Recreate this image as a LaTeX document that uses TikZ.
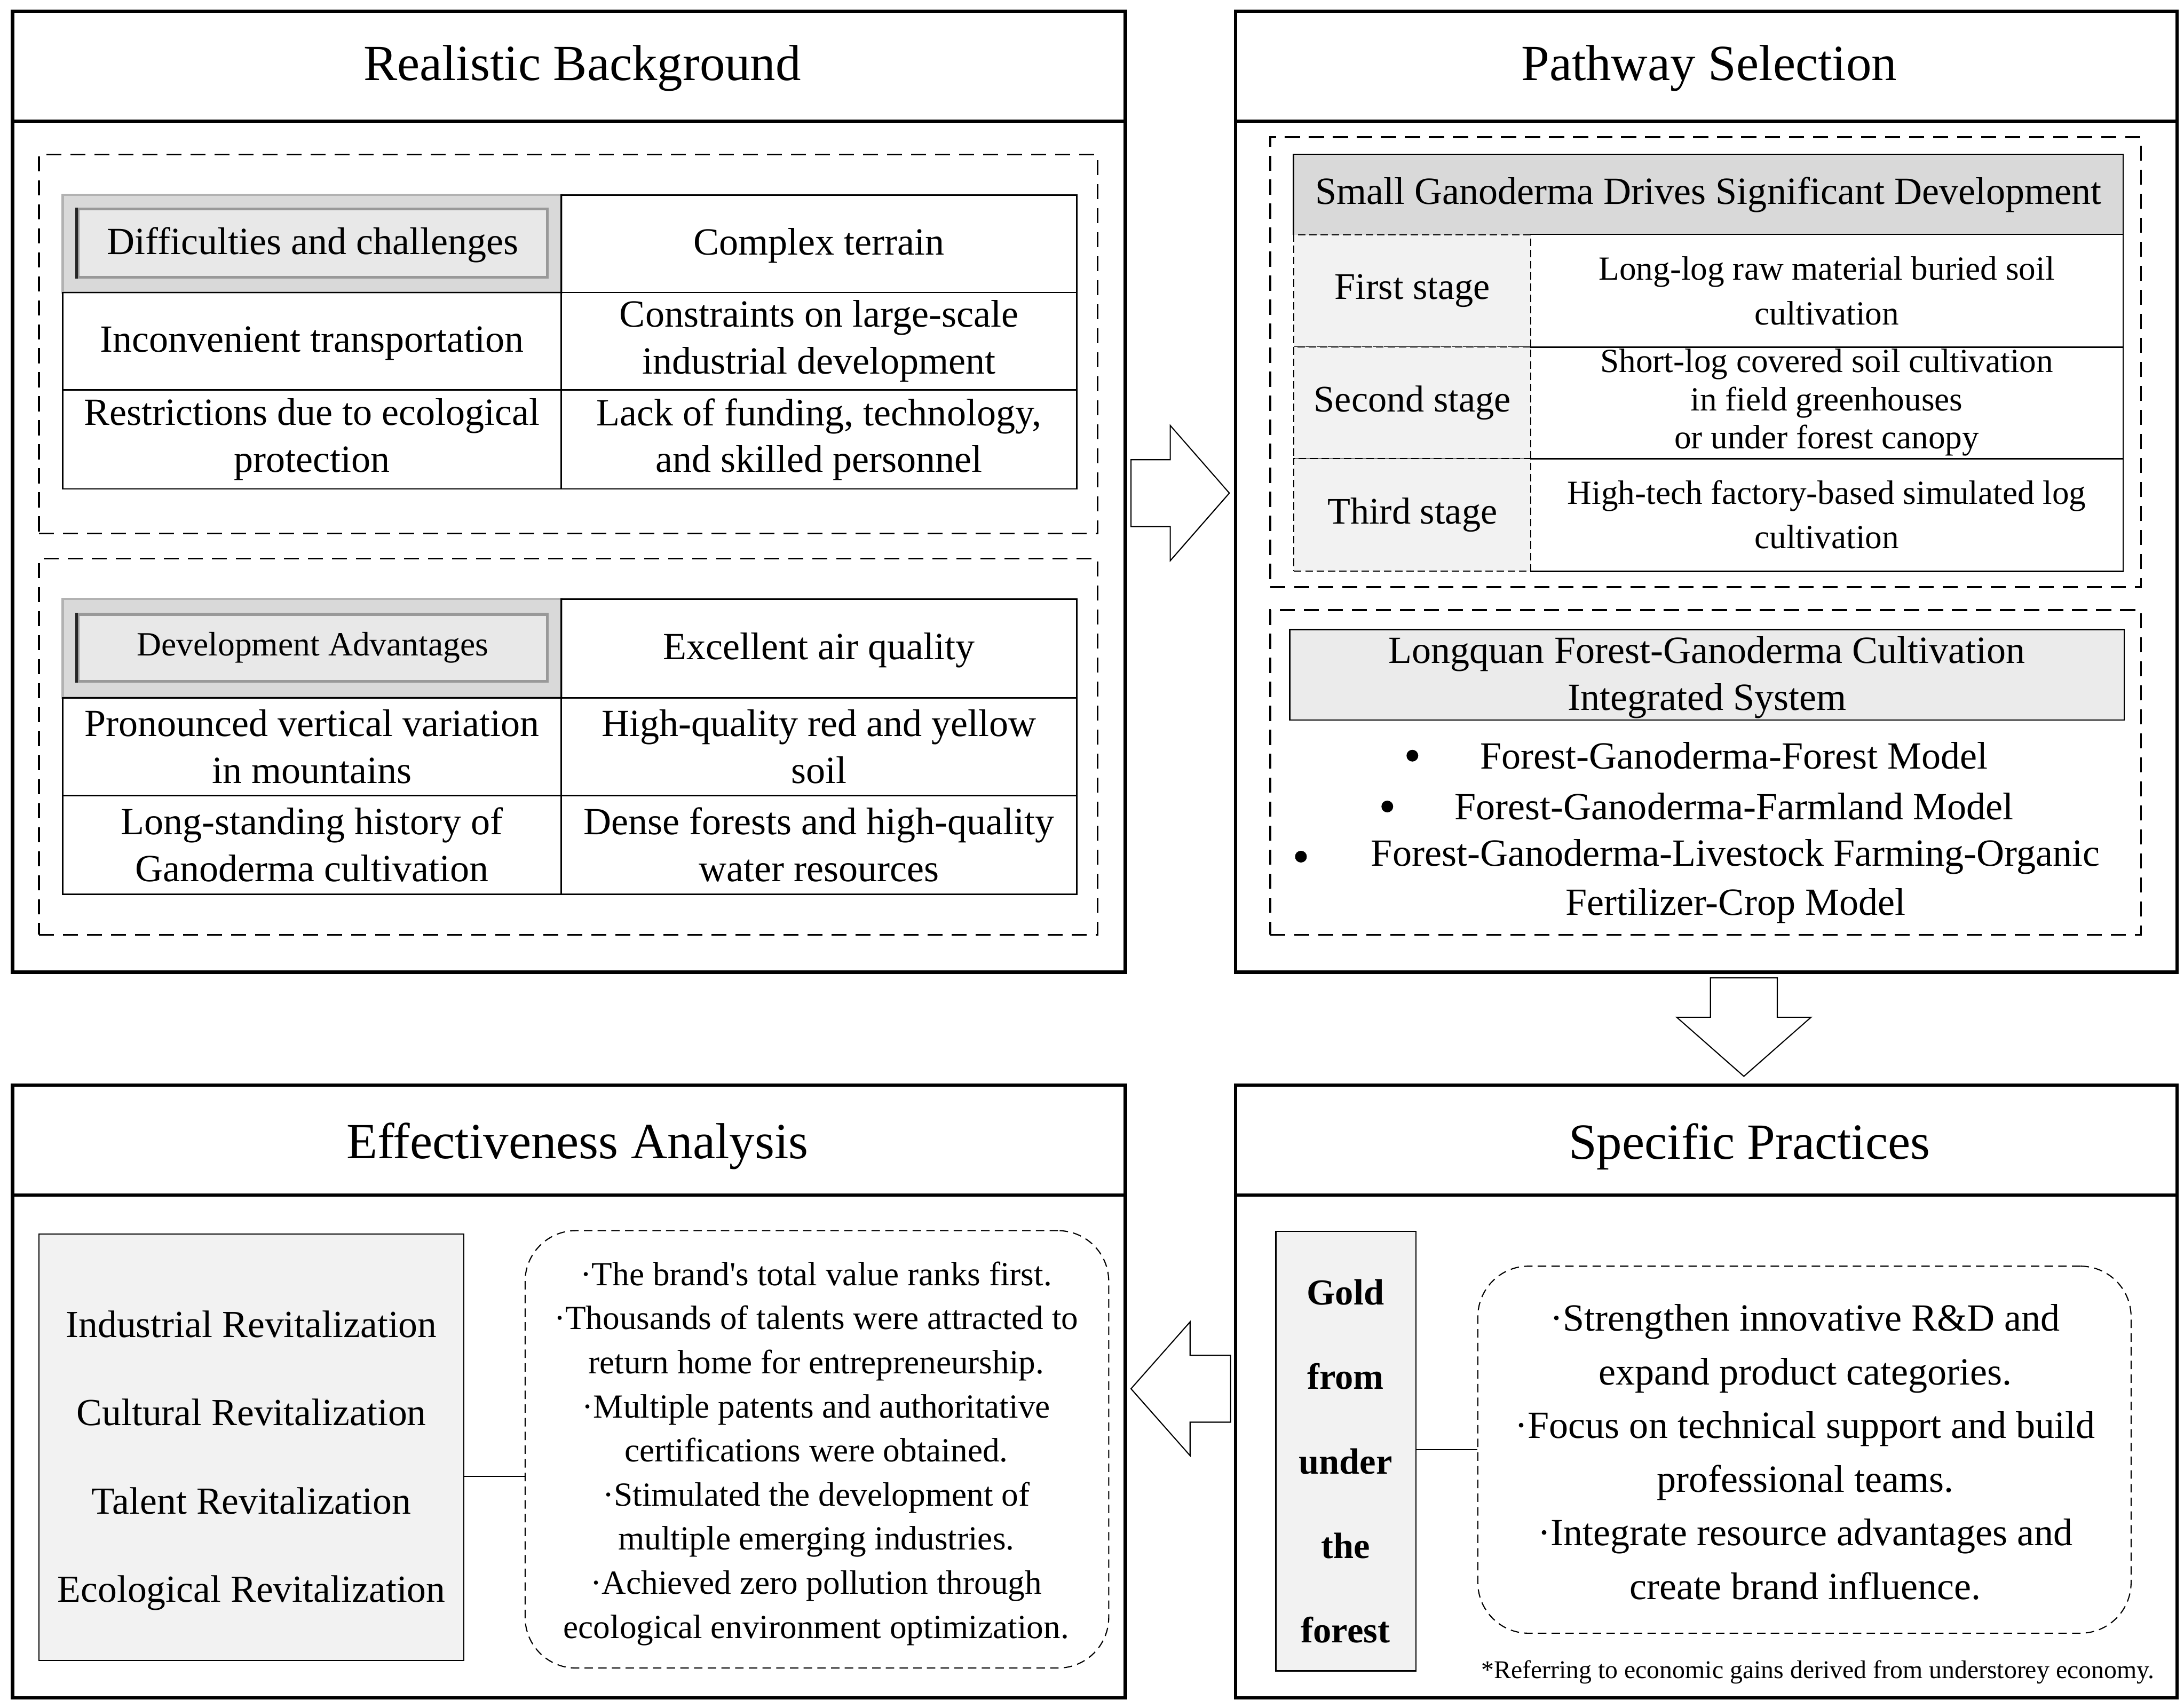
\documentclass[tikz,border=0pt]{standalone}
\usepackage{fontspec}
\setmainfont{Liberation Serif}
\usepackage{tikz}
\usetikzlibrary{positioning,calc,fit}

\begin{document}
\begin{tikzpicture}[
    x=0.026097cm, y=-0.026097cm,
    panel/.style={rectangle, draw, line width=1.8pt, inner sep=0pt},
    title/.style={font=\fontsize{27}{32}\selectfont},
    zone/.style={rectangle, draw, dash pattern=on 8pt off 4.8pt, line width=0.9pt, inner sep=0pt},
    cell/.style={rectangle, draw, line width=0.8pt, inner sep=0pt},
    celltext/.style={inner sep=0pt, align=center, font=\fontsize{20.5}{25}\selectfont},
    bevel/.style={rectangle, draw=black!30, line width=1.2pt, fill=black!15, inner sep=0pt},
    bevelin/.style={rectangle, draw=black!40, line width=1.5pt, fill=black!9, inner sep=0pt},
    stagecell/.style={rectangle, draw, dash pattern=on 4pt off 2pt, line width=0.6pt, fill=black!5, inner sep=0pt},
    stagetext/.style={inner sep=0pt, align=center, font=\fontsize{18}{23.7}\selectfont},
    graybox/.style={rectangle, draw, line width=0.7pt, fill=black!5, inner sep=0pt},
    dot/.style={circle, fill, inner sep=0pt, minimum size=0.22cm},
    note/.style={rectangle, draw, dash pattern=on 4.5pt off 2.8pt, line width=0.6pt, rounded corners=0.95cm, inner sep=0pt},
    bigarrow/.style={draw, line width=0.6pt, fill=white}
]
    \useasboundingbox (0,0) rectangle (1568,1226);

    % Realistic Background
    \node[panel, fit={(9,8) (808,698)}] (bg) {};
    \node[panel, fit={(9,8) (808,87)}] (bghead) {};
    \node[title] (bgtitle) at (418,49) {Realistic Background};
    \node[zone, fit={(28,111) (788,383)}] (bgzone1) {};
    \node[bevel, fit={(45,140) (403,210)}] (diff) {};
    \node[bevelin, fit={(56,150) (393,199)}] (diffin) {};
    \draw[line width=1.6pt, black!85] (diffin.north west) -- (diffin.south west);
    \node[celltext] (difftext) at ([yshift=-1pt]diffin.center) {Difficulties and challenges};
    \node[cell, fit={(403,140) (773,210)}] (terrain) {};
    \node[celltext] (terraintext) at ([yshift=-1pt]terrain.center) {Complex terrain};
    \node[cell, fit={(45,210) (403,280)}] (transport) {};
    \node[celltext] (transporttext) at ([yshift=-1pt]transport.center) {Inconvenient transportation};
    \node[cell, fit={(403,210) (773,280)}] (scale) {};
    \node[celltext] (scaletext) at (scale.center) {Constraints on large-scale\\industrial development};
    \node[cell, fit={(45,280) (403,351)}] (ecoprot) {};
    \node[celltext] (ecoprottext) at (ecoprot.center) {Restrictions due to ecological\\protection};
    \node[cell, fit={(403,280) (773,351)}] (funding) {};
    \node[celltext] (fundingtext) at (funding.center) {Lack of funding, technology,\\and skilled personnel};

    \node[zone, fit={(28,401) (788,671)}] (bgzone2) {};
    \node[bevel, fit={(45,430) (403,501)}] (adv) {};
    \node[bevelin, fit={(56,441) (393,489)}] (advin) {};
    \draw[line width=1.6pt, black!85] (advin.north west) -- (advin.south west);
    \node[celltext, font=\fontsize{18.1}{22}\selectfont] (advtext) at (advin.center) {Development Advantages};
    \node[cell, fit={(403,430) (773,501)}] (air) {};
    \node[celltext] (airtext) at ([yshift=-1pt]air.center) {Excellent air quality};
    \node[cell, fit={(45,501) (403,571)}] (vertical) {};
    \node[celltext] (verticaltext) at (vertical.center) {Pronounced vertical variation\\in mountains};
    \node[cell, fit={(403,501) (773,571)}] (soil) {};
    \node[celltext] (soiltext) at (soil.center) {High-quality red and yellow\\soil};
    \node[cell, fit={(45,571) (403,642)}] (history) {};
    \node[celltext] (historytext) at (history.center) {Long-standing history of\\Ganoderma cultivation};
    \node[cell, fit={(403,571) (773,642)}] (water) {};
    \node[celltext] (watertext) at (water.center) {Dense forests and high-quality\\water resources};

    % Pathway Selection
    \node[panel, fit={(887,8) (1563,698)}] (path) {};
    \node[panel, fit={(887,8) (1563,87)}] (pathhead) {};
    \node[title] (pathtitle) at (1227,49) {Pathway Selection};
    \node[zone, fit={(912,98.5) (1537,421.5)}] (pathzone1) {};
    \node[fit={(929,111) (1524,168.5)}, inner sep=0pt, fill=black!15] (small) {};
    \draw[line width=0.8pt] (small.south west) |- (small.north east) -- (small.south east);
    \node[celltext] (smalltext) at (small.center) {Small Ganoderma Drives Significant Development};
    \node[stagecell, fit={(929,168.5) (1099,249)}] (first) {};
    \node[celltext, font=\fontsize{20}{24}\selectfont] (firsttext) at (first.center) {First stage};
    \node[fit={(1099,168.5) (1524,249)}, inner sep=0pt] (firstdo) {};
    \node[stagetext] (firstdotext) at (firstdo.center) {Long-log raw material buried soil\\cultivation};
    \node[stagecell, fit={(929,249) (1099,329)}] (second) {};
    \node[celltext, font=\fontsize{20}{24}\selectfont] (secondtext) at (second.center) {Second stage};
    \node[fit={(1099,249) (1524,329)}, inner sep=0pt] (seconddo) {};
    \node[stagetext, font=\fontsize{18}{20.3}\selectfont] (seconddotext) at (seconddo.center) {Short-log covered soil cultivation\\in field greenhouses\\or under forest canopy};
    \node[stagecell, fit={(929,329) (1099,410)}] (third) {};
    \node[celltext, font=\fontsize{20}{24}\selectfont] (thirdtext) at (third.center) {Third stage};
    \node[fit={(1099,329) (1524,410)}, inner sep=0pt] (thirddo) {};
    \node[stagetext] (thirddotext) at (thirddo.center) {High-tech factory-based simulated log\\cultivation};
    \draw[line width=0.8pt] (firstdo.north west) -- (firstdo.north east) -- (thirddo.south east) -- (thirddo.south west);
    \draw[line width=0.8pt] (firstdo.south west) -- (firstdo.south east) (seconddo.south west) -- (seconddo.south east);

    \node[zone, fit={(912,438) (1537,671)}] (pathzone2) {};
    \node[graybox, fit={(926,452) (1525,517)}, fill=black!8] (longquan) {};
    \node[celltext] (longquantext) at ([yshift=-1.5pt]longquan.center) {Longquan Forest-Ganoderma Cultivation\\Integrated System};
    \node[celltext] (model1) at (1245,542.5) {Forest-Ganoderma-Forest Model};
    \node[celltext] (model2) at (1245,579) {Forest-Ganoderma-Farmland Model};
    \node[celltext] (model3) at (1246,615) {Forest-Ganoderma-Livestock Farming-Organic};
    \node[celltext] (model3b) at (1246,650.5) {Fertilizer-Crop Model};
    \node[dot] (dot1) at (1014,542.5) {};
    \node[dot] (dot2) at (996,579) {};
    \node[dot] (dot3) at (934,615) {};

    % Block arrows
    \draw[bigarrow] (812,330) -- (840.2,330) -- (840.2,305.5) -- (882.6,354) -- (840.2,402.5) -- (840.2,378) -- (812,378) -- cycle;
    \draw[bigarrow] (1228,702) -- (1276,702) -- (1276,730.3) -- (1300.2,730.3) -- (1252,772.7) -- (1203.8,730.3) -- (1228,730.3) -- cycle;
    \draw[bigarrow] (883.5,973) -- (854.4,973) -- (854.4,949) -- (812,997) -- (854.4,1045) -- (854.4,1021) -- (883.5,1021) -- cycle;

    % Effectiveness Analysis
    \node[panel, fit={(9,779) (808,1219)}] (eff) {};
    \node[panel, fit={(9,779) (808,858)}] (effhead) {};
    \node[title] (efftitle) at (414.5,823) {Effectiveness Analysis};
    \node[graybox, fit={(28,886) (333,1192)}] (revital) {};
    \node[font=\fontsize{20.4}{47}\selectfont, align=center] (revitaltext) at (180.5,1048.5) {Industrial Revitalization\\Cultural Revitalization\\Talent Revitalization\\Ecological Revitalization};
    \node[note, fit={(377,883.5) (796,1197.5)}] (effnote) {};
    \node[font=\fontsize{18}{23.5}\selectfont, align=center] (efftext) at (586,1043.5) {·The brand\textquotesingle s total value ranks first.\\·Thousands of talents were attracted to\\return home for entrepreneurship.\\·Multiple patents and authoritative\\certifications were obtained.\\·Stimulated the development of\\multiple emerging industries.\\·Achieved zero pollution through\\ecological environment optimization.};
    \coordinate (effline) at (355,1060);
    \draw[line width=0.6pt] (revital.east |- effline) -- (effnote.west |- effline);

    % Specific Practices
    \node[panel, fit={(887,779) (1563,1219)}] (spec) {};
    \node[panel, fit={(887,779) (1563,858)}] (spechead) {};
    \node[title] (spectitle) at (1256,823) {Specific Practices};
    \node[graybox, fit={(916,884) (1016.5,1199.5)}] (gold) {};
    \node[font=\bfseries\fontsize{19.5}{45}\selectfont, align=center] (goldtext) at (966,1049) {Gold\\from\\under\\the\\forest};
    \node[note, fit={(1061,909) (1530,1172.5)}] (practice) {};
    \node[font=\fontsize{20.5}{28.6}\selectfont, align=center] (practicetext) at (1296,1042.5) {·Strengthen innovative R\&D and\\expand product categories.\\·Focus on technical support and build\\professional teams.\\·Integrate resource advantages and\\create brand influence.};
    \draw[line width=0.6pt] (gold.east |- practice.west) -- (practice.west);
    \node[font=\fontsize{13.6}{16}\selectfont] (footnote) at (1305,1200.5) {*Referring to economic gains derived from understorey economy.};
\end{tikzpicture}
\end{document}
